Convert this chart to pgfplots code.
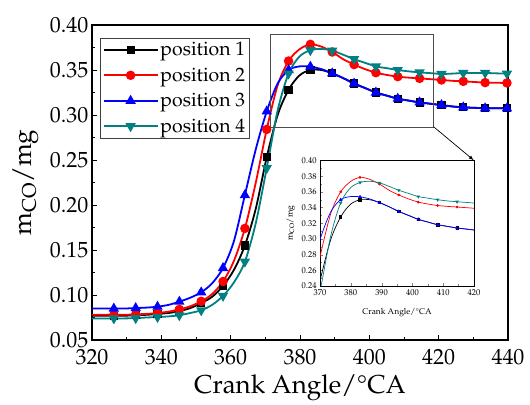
\documentclass[border=0pt]{standalone}
\usepackage[T1]{fontenc}
\usepackage{mathpazo}
\usepackage{pgfplots}
\usepackage{pgfplotstable}
\pgfplotsset{compat=1.18}
\definecolor{tealc}{RGB}{0,128,128}
\pgfplotstableread{
x p1 p2 p3 p4
320    0.077  0.078  0.085  0.074
323.15 0.077  0.078  0.085  0.074
326.3  0.077  0.078  0.085  0.074
329.45 0.077  0.078  0.085  0.074
332.6  0.0775 0.0785 0.0855 0.0743
335.75 0.078  0.079  0.086  0.075
338.9  0.079  0.080  0.087  0.0755
342.05 0.080  0.0815 0.089  0.0762
345.2  0.082  0.084  0.0926 0.0775
348.35 0.0855 0.0875 0.097  0.080
351.5  0.091  0.093  0.103  0.083
354.65 0.098  0.101  0.113  0.089
357.8  0.110  0.115  0.130  0.099
360.95 0.128  0.138  0.160  0.114
364.1  0.155  0.174  0.211  0.137
367.25 0.196  0.225  0.262  0.180
370.4  0.253  0.284  0.304  0.241
373.55 0.300  0.333  0.335  0.305
376.7  0.328  0.360  0.350  0.346
379.85 0.344  0.373  0.354  0.365
383.0  0.350  0.3785 0.3537 0.372
386.15 0.350  0.376  0.351  0.3735
389.3  0.3463 0.370  0.3463 0.3715
392.45 0.341  0.362  0.341  0.367
395.6  0.335  0.356  0.335  0.362
398.75 0.330  0.351  0.330  0.358
401.9  0.325  0.347  0.325  0.354
405.05 0.3215 0.3445 0.3215 0.352
408.2  0.3181 0.3426 0.3181 0.350
411.35 0.316  0.3415 0.316  0.3485
414.5  0.314  0.3407 0.314  0.3474
417.65 0.3125 0.3398 0.3125 0.3465
420.8  0.311  0.3389 0.311  0.3456
423.95 0.3095 0.338  0.3095 0.346
427.1  0.3085 0.3374 0.3085 0.3467
430.25 0.308  0.3367 0.308  0.3467
433.4  0.3075 0.336  0.3075 0.3467
436.55 0.3075 0.3358 0.3075 0.3463
439.7  0.3074 0.3356 0.3074 0.3459
}\data
\begin{document}
\begin{tikzpicture}
\path[use as bounding box] (-92bp,-65bp) rectangle (438bp,340bp);
\begin{axis}[
  at={(0bp,0bp)}, anchor=south west,
  scale only axis, width=416bp, height=315bp,
  xmin=320, xmax=440, ymin=0.05, ymax=0.40,
  xtick={320,340,...,440}, ytick={0.05,0.10,...,0.41},
  minor x tick num=1, minor y tick num=1,
  tick align=inside, xtick pos=bottom, ytick pos=left,
  major tick length=5bp, minor tick length=3bp,
  axis line style={line width=1.3bp},
  every tick/.style={line width=1bp, black},
  yticklabel style={/pgf/number format/fixed,/pgf/number format/precision=2,/pgf/number format/fixed zerofill, inner sep=0.5bp, xshift=-3bp},
  xticklabel style={inner sep=0.5bp, yshift=-8.5bp},
  scaled y ticks=false,
  tick label style={font=\fontsize{22}{24}\selectfont},
  xlabel={Crank Angle/\textdegree CA},
  ylabel={m\textsubscript{CO}/mg},
  label style={font=\fontsize{26}{28}\selectfont},
  x label style={at={(axis description cs:0.5,-0.152)},anchor=center},
  y label style={at={(axis description cs:-0.16,0.5)},anchor=center},
  legend style={at={(0.019,0.96)}, anchor=north west, draw=black!75, line width=0.6bp,
    font=\fontsize{19.5}{22}\selectfont, row sep=6.5bp, inner sep=2.5bp,
    cells={anchor=west}},
  legend image code/.code={\draw[mark repeat=2,mark phase=2,#1] plot coordinates {(0bp,0bp) (27bp,0bp) (54bp,0bp)};},
  every axis plot/.append style={line width=1.8bp, smooth, mark repeat=2, mark phase=3},
]
\addplot[black, mark=square*, mark size=3.2bp] table[x=x,y=p1]{\data};
\addlegendentry{position 1}
\addplot[red, mark=*, mark size=3.8bp] table[x=x,y=p2]{\data};
\addlegendentry{position 2}
\addplot[blue, mark=triangle*, mark size=4.2bp] table[x=x,y=p3]{\data};
\addlegendentry{position 3}
\addplot[tealc, mark=triangle*, mark options={rotate=180}, mark size=4.2bp] table[x=x,y=p4]{\data};
\addlegendentry{position 4}
\draw[black!70, line width=0.8bp] (axis cs:371.5,0.2867) rectangle (axis cs:418.6,0.3897);
\draw[black, line width=0.7bp, -latex] (axis cs:418.6,0.2867) -- (axis cs:430.1,0.2498);
\end{axis}
\begin{axis}[
  at={(228bp,54bp)}, anchor=south west,
  scale only axis, width=154bp, height=125.5bp,
  xmin=370, xmax=420, ymin=0.24, ymax=0.40,
  xtick={370,380,...,420}, ytick={0.24,0.26,...,0.41},
  minor x tick num=1, minor y tick num=1,
  tick align=inside, xtick pos=bottom, ytick pos=left,
  major tick length=3bp, minor tick length=2bp,
  axis line style={line width=0.8bp},
  yticklabel style={/pgf/number format/fixed,/pgf/number format/precision=2,/pgf/number format/fixed zerofill},
  scaled y ticks=false,
  tick label style={font=\fontsize{8.5}{10}\selectfont},
  xlabel={Crank Angle/\textdegree CA},
  ylabel={m\textsubscript{CO}/mg},
  label style={font=\fontsize{8.5}{10}\selectfont},
  x label style={at={(axis description cs:0.5,-0.215)},anchor=center},
  y label style={at={(axis description cs:-0.19,0.5)},anchor=center},
  axis background/.style={fill=white},
  every axis plot/.append style={line width=0.7bp, smooth, mark repeat=2, mark phase=3},
]
\addplot[black, mark=square*, mark size=1.2bp] table[x=x,y=p1]{\data};
\addplot[red, mark=*, mark size=1bp] table[x=x,y=p2]{\data};
\addplot[blue, mark=triangle*, mark size=1.4bp] table[x=x,y=p3]{\data};
\addplot[tealc, mark=triangle*, mark options={rotate=180}, mark size=1.4bp] table[x=x,y=p4]{\data};
\end{axis}
\end{tikzpicture}
\end{document}
